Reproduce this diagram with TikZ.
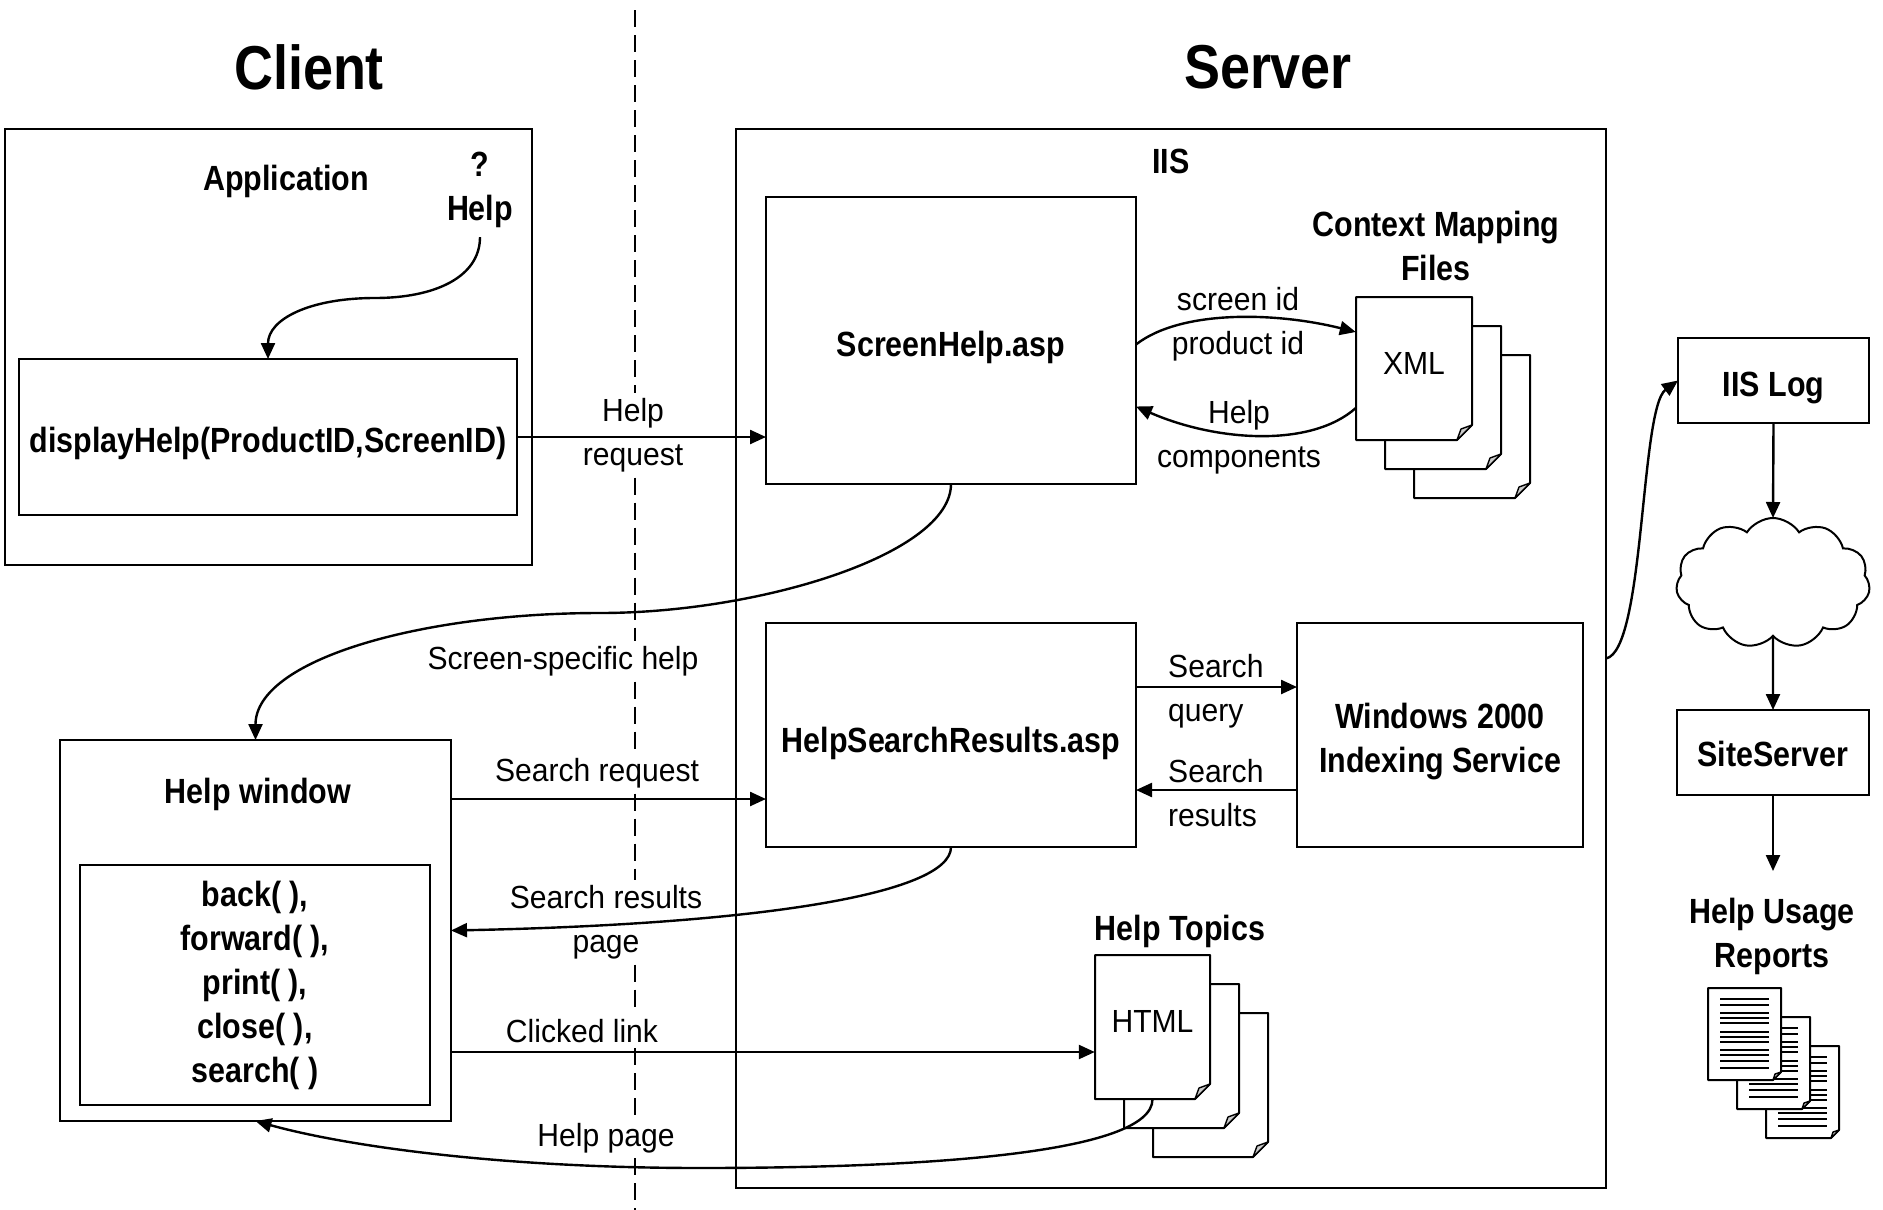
\documentclass[tikz,border=0pt]{standalone}
\usepackage{fontspec}
\setmainfont{Liberation Sans}[FakeStretch=0.94]
\newfontfamily\labelfont{Liberation Sans}[FakeStretch=0.87]
\usetikzlibrary{arrows.meta,shapes.symbols}
\tikzset{
  box/.style={draw,line width=2pt,inner sep=0pt,outer sep=0pt},
  boxtext/.style={text height=31pt,text depth=0pt},
  docpage/.style={draw,line width=2pt,fill=white,line join=round},
  docfold/.style={draw,line width=1.4pt,fill=gray!40,line join=round},
  docline/.style={line width=2pt},
  headline/.style={font=\labelfont\bfseries\fontsize{62}{70}\selectfont},
  boldtext/.style={font=\labelfont\bfseries\fontsize{35}{44}\selectfont,align=center,inner sep=3pt},
  plaintext/.style={font=\fontsize{32}{44}\selectfont,align=center,inner sep=3pt},
  gaplabel/.style={plaintext,fill=white,inner sep=5pt},
  flow/.style={line width=2.4pt,-{Triangle[length=16pt,width=14pt]}},
  divider/.style={line width=1.6pt,dash pattern=on 17pt off 8pt}
}
\begin{document}
\begin{tikzpicture}[x=1pt,y=-1pt]
\useasboundingbox (0,0) rectangle (1883,1210);

\node[headline] (client) at (309,67) {Client};
\node[headline] (server) at (1268,67) {Server};

\node[gaplabel] (lblrequest) at (633,435.5) {Help\\request};
\node[gaplabel] (lblscreen) at (563,661.5) {Screen-specific help};
\node[gaplabel] (lblsearch) at (597,773.5) {Search request};
\node[gaplabel] (lblresults) at (606,922.5) {Search results\\page};
\node[gaplabel] (lblclicked) at (582,1031.5) {Clicked link};
\node[gaplabel] (lblpage) at (606,1138) {Help page};
\coordinate (divtop) at (635,10);
\coordinate (divbottom) at (635,1210);
\draw[divider] (divtop) -- (divtop |- lblrequest.north);
\draw[divider] (divtop |- lblrequest.south) -- (divtop |- lblscreen.north);
\draw[divider] (divtop |- lblscreen.south) -- (divtop |- lblsearch.north);
\draw[divider] (divtop |- lblsearch.south) -- (divtop |- lblresults.north);
\draw[divider] (divtop |- lblresults.south) -- (divtop |- lblclicked.north);
\draw[divider] (divtop |- lblclicked.south) -- (divtop |- lblpage.north);
\draw[divider] (divtop |- lblpage.south) -- (divbottom);

\node[box,minimum width=527pt,minimum height=436pt] (app) at (268.5,347) {};
\node[boldtext] (apptitle) at (286,181) {Application};
\node[boldtext] (helpicon) at (480,190) {?\\Help};
\node[box,boldtext,boxtext,inner sep=0pt,minimum width=498pt,minimum height=156pt] (disphelp) at (268,437) {displayHelp(ProductID,ScreenID)};

\node[box,minimum width=391pt,minimum height=381pt] (helpwin) at (255.5,930.5) {};
\node[boldtext] (helpwintitle) at (258,794) {Help window};
\node[box,boldtext,inner sep=0pt,minimum width=350pt,minimum height=240pt] (methods) at (255,985) {back( ),\\forward( ),\\print( ),\\close( ),\\search( )};

\node[box,minimum width=870pt,minimum height=1059pt] (iis) at (1171,658.5) {};
\node[boldtext] (iistitle) at (1171,161) {IIS};
\node[box,boldtext,boxtext,inner sep=0pt,minimum width=370pt,minimum height=287pt] (screenhelp) at (951,340.5) {ScreenHelp.asp};
\node[box,boldtext,boxtext,text height=35pt,inner sep=0pt,minimum width=370pt,minimum height=224pt] (searchres) at (951,735) {HelpSearchResults.asp};
\node[box,minimum width=286pt,minimum height=224pt] (windows) at (1440,735) {};
\node[boldtext] (windowstext) at (1440,742) {Windows 2000\\Indexing Service};

\node[boldtext] (ctxtitle) at (1436,246) {Context Mapping\\Files};
\draw[docpage] (1414,355) -- (1530,355) -- (1530,483) -- (1515,498) -- (1414,498) -- cycle;
\draw[docfold] (1530,483) -- (1519,487) -- (1515,498) -- cycle;
\draw[docpage] (1385,326) -- (1501,326) -- (1501,454) -- (1486,469) -- (1385,469) -- cycle;
\draw[docfold] (1501,454) -- (1490,458) -- (1486,469) -- cycle;
\draw[docpage] (1356,297) -- (1472,297) -- (1472,425) -- (1457,440) -- (1356,440) -- cycle;
\draw[docfold] (1472,425) -- (1461,429) -- (1457,440) -- cycle;
\node[plaintext,text depth=11pt,inner sep=0pt,minimum width=116pt,minimum height=143pt] (xml) at (1414,368.5) {XML};

\node[boldtext] (topicstitle) at (1180,931) {Help Topics};
\draw[docpage] (1153,1013) -- (1268,1013) -- (1268,1142) -- (1253,1157) -- (1153,1157) -- cycle;
\draw[docfold] (1268,1142) -- (1257,1146) -- (1253,1157) -- cycle;
\draw[docpage] (1124,984) -- (1239,984) -- (1239,1113) -- (1224,1128) -- (1124,1128) -- cycle;
\draw[docfold] (1239,1113) -- (1228,1117) -- (1224,1128) -- cycle;
\draw[docpage] (1095,955) -- (1210,955) -- (1210,1084) -- (1195,1099) -- (1095,1099) -- cycle;
\draw[docfold] (1210,1084) -- (1199,1088) -- (1195,1099) -- cycle;
\node[plaintext,text depth=11pt,inner sep=0pt,minimum width=115pt,minimum height=144pt] (html) at (1152.5,1027) {HTML};

\node[plaintext] (lblids) at (1238,324) {screen id\\product id};
\node[plaintext] (lblcomp) at (1239,437.5) {Help\\components};
\node[plaintext,align=left,anchor=west,inner sep=0pt] (lblquery) at (1168,691) {Search\\query};
\node[plaintext,align=left,anchor=west,inner sep=0pt] (lblfound) at (1168,793.5) {Search\\results};

\node[box,boldtext,boxtext,inner sep=0pt,minimum width=191pt,minimum height=85pt] (iislog) at (1773.5,380.5) {IIS Log};
\node[draw,cloud,cloud puffs=11,cloud puff arc=115,cloud ignores aspect,line width=2pt,inner sep=0pt,outer sep=0pt,minimum width=194pt,minimum height=130pt] (cloud) at (1773,583) {};
\node[box,boldtext,boxtext,text height=28pt,inner sep=0pt,minimum width=192pt,minimum height=85pt] (siteserver) at (1773,752.5) {SiteServer};
\coordinate (reports) at (1773,871);
\node[boldtext] (reportstitle) at (1772,936) {Help Usage\\Reports};

\draw[docpage] (1766,1046) -- (1839,1046) -- (1839,1130) -- (1831,1138) -- (1766,1138) -- cycle;
\draw[docfold] (1839,1130) -- (1833,1132) -- (1831,1138) -- cycle;
\draw[docline] (1778,1057) -- (1827,1057) (1778,1063) -- (1827,1063) (1778,1071) -- (1827,1071)
  (1778,1076) -- (1827,1076) (1778,1081) -- (1827,1081) (1778,1090) -- (1827,1090)
  (1778,1095) -- (1827,1095) (1778,1100) -- (1827,1100) (1778,1108) -- (1827,1108)
  (1778,1113) -- (1827,1113) (1778,1119) -- (1827,1119) (1778,1126) -- (1827,1126);
\draw[docpage] (1737,1017) -- (1810,1017) -- (1810,1101) -- (1802,1109) -- (1737,1109) -- cycle;
\draw[docfold] (1810,1101) -- (1804,1103) -- (1802,1109) -- cycle;
\draw[docline] (1749,1028) -- (1798,1028) (1749,1034) -- (1798,1034) (1749,1042) -- (1798,1042)
  (1749,1047) -- (1798,1047) (1749,1052) -- (1798,1052) (1749,1061) -- (1798,1061)
  (1749,1066) -- (1798,1066) (1749,1071) -- (1798,1071) (1749,1079) -- (1798,1079)
  (1749,1084) -- (1798,1084) (1749,1090) -- (1798,1090) (1749,1097) -- (1798,1097);
\draw[docpage] (1708,988) -- (1781,988) -- (1781,1072) -- (1773,1080) -- (1708,1080) -- cycle;
\draw[docfold] (1781,1072) -- (1775,1074) -- (1773,1080) -- cycle;
\draw[docline] (1720,999) -- (1769,999) (1720,1005) -- (1769,1005) (1720,1013) -- (1769,1013)
  (1720,1018) -- (1769,1018) (1720,1023) -- (1769,1023) (1720,1032) -- (1769,1032)
  (1720,1037) -- (1769,1037) (1720,1042) -- (1769,1042) (1720,1050) -- (1769,1050)
  (1720,1055) -- (1769,1055) (1720,1061) -- (1769,1061) (1720,1068) -- (1769,1068);

\draw[flow] ([yshift=-6pt]helpicon.south) .. controls +(0,40) and +(60,0) .. (375,298) .. controls +(-65,0) and +(0,-40) .. (disphelp.north);
\draw[flow] (disphelp.east) -- (disphelp.east -| screenhelp.west);
\draw[flow] ([yshift=-4pt]screenhelp.east) .. controls +(45,-35) and +(-80,-20) .. ([yshift=36.5pt]xml.west);
\draw[flow] ([yshift=-39.5pt]xml.west) .. controls +(-45,40) and +(80,35) .. ([yshift=-66pt]screenhelp.east);
\draw[flow] (screenhelp.south) .. controls +(0,70) and +(160,0) .. (600,613) .. controls +(-180,0) and +(0,-80) .. (helpwin.north);
\draw[flow] ([yshift=131.5pt]helpwin.east) -- ([yshift=-64pt]searchres.west);
\draw[flow] ([yshift=48pt]searchres.east) -- ([yshift=48pt]windows.west);
\draw[flow] ([yshift=-55pt]windows.west) -- ([yshift=-55pt]searchres.east);
\draw[flow] (searchres.south) .. controls +(0,48) and +(300,-6) .. (helpwin.east);
\draw[flow] ([yshift=-121.5pt]helpwin.east) -- ([yshift=-25pt]html.west);
\draw[flow] (html.south) .. controls +(0,55) and +(220,0) .. (700,1168) .. controls +(-200,0) and +(90,25) .. (helpwin.south);
\draw[flow] (iis.east) .. controls +(39,-8) and +(-38,28) .. (iislog.west);
\draw[flow] (iislog.south) -- (cloud.north);
\draw[flow] (cloud.south) -- (siteserver.north);
\draw[flow] (siteserver.south) -- (reports);
\end{tikzpicture}
\end{document}
